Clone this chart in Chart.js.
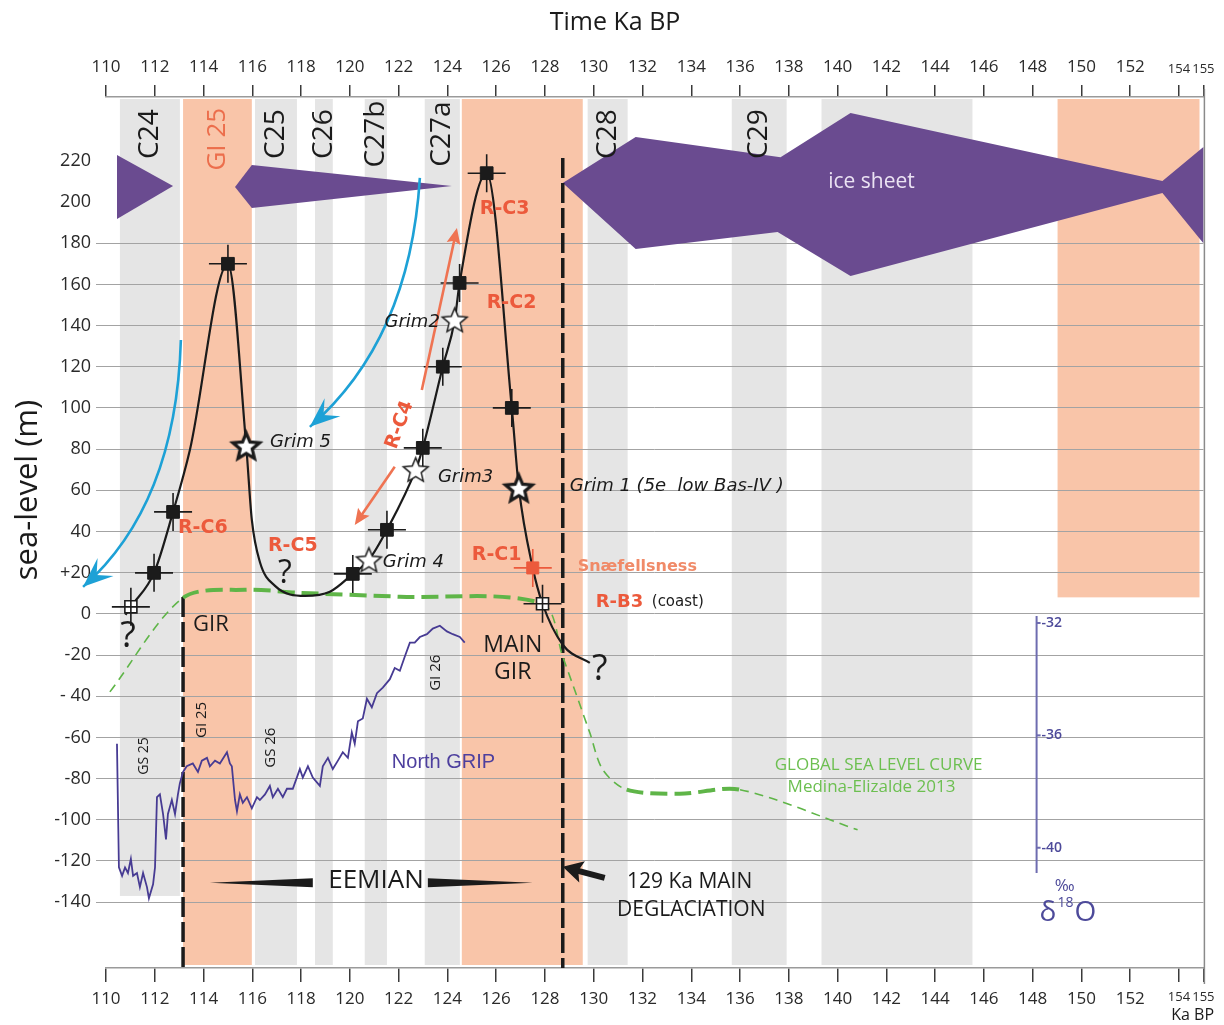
<!DOCTYPE html>
<html>
<head>
<meta charset="utf-8">
<script src="https://cdn.jsdelivr.net/npm/chart.js@4.4.1/dist/chart.umd.min.js"></script>
<style>
  html, body { margin: 0; padding: 0; background: #fff; }
  #wrap { width: 1224px; height: 1025px; }
</style>
</head>
<body>
<div id="wrap"><canvas id="c" width="1224" height="1025"></canvas></div>
<script>
// ---- values: time in ka BP, sea level in m, NGRIP in permil ----
const xTickValues = [110,112,114,116,118,120,122,124,126,128,130,132,134,136,138,140,142,144,146,148,150,152,154,155];
const yTickValues = [220,200,180,160,140,120,100,80,60,40,20,0,-20,-40,-60,-80,-100,-120,-140];
const d18TickValues = [-32, -36, -40];

// stadial (C..) and interstadial (GI) bands
const bandFrom  = [110.57, 113.16, 116.11, 118.57, 120.61, 123.07, 124.59, 129.75, 135.66, 139.34, 149.02];
const bandTo    = [113.03, 115.98, 117.83, 119.30, 121.52, 124.51, 129.55, 131.39, 137.91, 145.53, 154.84];
const bandKind  = ['GS', 'GI', 'GS', 'GS', 'GS', 'GS', 'GI', 'GS', 'GS', 'GS', 'GI'];
const bandFloor = [-137, null, null, null, null, null, null, null, null, null, 8];
const bandName  = ['C24', 'GI 25', 'C25', 'C26', 'C27b', 'C27a', '', 'C28', 'C29', '', ''];

// ice sheet outlines (ka, m)
const iceWest    = [[110.45, 222.8], [112.75, 207.8], [110.45, 191.7]];
const iceCentral = [[115.29, 207.3], [115.98, 218], [124.18, 207.8], [115.98, 197.1]];
const iceSheet   = [[128.73, 209.2], [131.72, 231.6], [137.66, 221.8], [140.53, 243.2], [153.32, 210.2], [155, 226.7],
                    [155, 180], [153.32, 204.4], [140.53, 164.1], [137.54, 185.4], [131.72, 177.2]];

// Greenland relative sea-level reconstruction
const recKa = [110.8, 111.02, 111.97, 112.75, 113.44, 115.0, 115.75, 115.98, 116.31, 116.93, 118.16, 119.18, 120.12,
               120.78, 121.52, 122.7, 122.99, 123.81, 124.3, 124.5, 125.61, 126.64, 126.93, 127.5, 127.9, 128.73, 129.84];
const recM  = [-0.5, 3.4, 19.9, 49.5, 79.6, 170, 81.5, 45.6, 25.2, 13.6, 8.7, 10.7, 19.4,
               26.2, 40.8, 70, 80.6, 120, 142.7, 160.7, 214, 100, 61, 22.3, 4.9, -15, -23.8];

const squareKa = [111.97, 112.75, 115.0, 120.12, 121.52, 122.99, 123.81, 124.5, 125.61, 126.64];
const squareM  = [19.9, 49.5, 170, 19.4, 40.8, 80.6, 120, 160.7, 214, 100];
const openKa = [111.02, 127.9];
const openM  = [3.4, 4.9];
const snaefKa = [127.5];
const snaefM  = [22.3];
const grimName = ['Grim 5', 'Grim 4', 'Grim3', 'Grim2', 'Grim 1'];
const grimKa   = [115.75, 120.78, 122.7, 124.3, 126.93];
const grimM    = [81.5, 26.2, 70, 142.7, 61];

// global sea level curve (Medina-Elizalde 2013)
const gslKa = [110.16, 113.16, 115.7, 117.95, 122.05, 127.9, 128.73, 129.84, 130.37, 131.35, 133.52, 136.0, 140.82];
const gslM  = [-37.9, 7.8, 11.7, 10.2, 8.3, 4.9, -20.9, -57.8, -75.7, -85.4, -87.4, -85.4, -104.9];

// North GRIP d18O
const gripKa = [110.45,110.53,110.66,110.78,110.90,111.02,111.11,111.27,111.39,111.52,111.68,111.76,111.93,112.01,112.09,
  112.21,112.34,112.46,112.54,112.70,112.83,112.95,113.03,113.16,113.31,113.56,113.77,113.93,114.14,114.26,114.47,114.67,
  114.96,115.08,115.16,115.29,115.37,115.49,115.61,115.78,115.98,116.19,116.31,116.52,116.72,116.84,117.05,117.25,117.42,
  117.66,117.95,118.07,118.28,118.48,118.77,118.89,119.10,119.30,119.51,119.71,119.92,120.08,120.20,120.33,120.53,120.70,
  120.90,121.11,121.35,121.64,121.84,122.05,122.25,122.46,122.66,122.87,123.16,123.40,123.69,123.98,124.22,124.51,124.71];
const gripD = [-36.3,-40.7,-41.0,-40.7,-40.9,-40.4,-41.0,-40.9,-41.4,-40.9,-41.4,-41.8,-41.3,-40.7,-38.2,
  -38.1,-38.8,-39.7,-38.8,-38.3,-38.8,-38.1,-37.7,-37.3,-37.1,-37.0,-37.3,-36.9,-36.8,-37.1,-36.9,-37.0,
  -36.6,-37.0,-37.1,-38.3,-38.7,-38.1,-38.4,-38.2,-38.6,-38.2,-38.3,-38.1,-37.8,-38.2,-37.9,-38.2,-37.9,
  -37.9,-37.2,-37.5,-37.1,-37.5,-37.8,-37.1,-36.8,-37.2,-36.9,-36.6,-36.8,-35.9,-36.3,-35.5,-35.4,-34.7,
  -35.0,-34.5,-34.3,-34.0,-33.6,-33.7,-33.2,-32.7,-32.7,-32.5,-32.4,-32.2,-32.1,-32.3,-32.4,-32.5,-32.7];

// annotation geometry (ka, m)
const girKa = [113.16, 128.73];
const girTopM = [8.2, 221.4];
const flowArrows = [
  [[113.07, 133], [112.87, 53], [109.06, 13.1]],
  [[122.87, 211.7], [122.46, 133], [118.36, 90.8]]
];
const rc4Arrows = [[[122.95, 108.7], [124.39, 187.4]], [[121.84, 71.4], [120.2, 43.2]]];
const deglacArrow = [[130.45, -128.2], [128.73, -122.8]];

// ---- styling ----
const INK = '#1b1b1b', RED = '#ec5a3c', GREEN = '#5fb548', GRIP = '#473b93', ICE = '#6a4b90',
      CYAN = '#1da1d6', GREY = '#e5e5e5', PINK = '#f9c5a9', GRID = '#a3a3a3', DPURPLE = '#4d4a9a';
const OS = "'Open Sans', sans-serif";
const DV = "'DejaVu Sans', sans-serif";

const xy = (a, b) => a.map((v, i) => ({x: v, y: b[i]}));

// the last two time ticks are only 1 ka apart: use a narrow face there if one is installed
const tailFont = (() => {
  const g = document.createElement('canvas').getContext('2d');
  g.font = "16px monospace";
  const ref = g.measureText('154155').width;
  g.font = "16px 'Liberation Sans Narrow', monospace";
  const w = g.measureText('154155').width;
  return w !== ref ? {family: "'Liberation Sans Narrow', sans-serif", size: 17} : {family: OS, size: 13};
})();

function starImage(r, lw) {
  const c = document.createElement('canvas');
  const s = Math.ceil(2 * r + 2 * lw + 4);
  c.width = c.height = s;
  const g = c.getContext('2d');
  g.translate(s / 2, s / 2 + 1);
  g.beginPath();
  for (let i = 0; i < 10; i++) {
    const rr = i % 2 ? r * 0.45 : r;
    const a = -Math.PI / 2 + i * Math.PI / 5;
    g.lineTo(rr * Math.cos(a), rr * Math.sin(a));
  }
  g.closePath();
  g.fillStyle = '#fff';
  g.fill();
  g.lineWidth = lw;
  g.lineJoin = 'miter';
  g.strokeStyle = INK;
  g.stroke();
  return c;
}
const starThin = starImage(13, 1.5);
const starBold = starImage(14, 3.2);
const boldGrim = ['Grim 5', 'Grim 1'];

const notes = [
  // text, ka, m, font, colour, align, rotation
  ['Grim 5', 116.72, 83.5, 'italic 18px ' + DV, INK, 'left', 0],
  ['Grim2', 123.69, 141.7, 'italic 18px ' + DV, INK, 'right', 0],
  ['Grim3', 123.61, 66.5, 'italic 18px ' + DV, INK, 'left', 0],
  ['Grim 4', 121.35, 24.8, 'italic 18px ' + DV, INK, 'left', 0],
  ['Grim 1 (5e  low Bas-IV )', 129.02, 61.7, 'italic 18px ' + DV, INK, 'left', 0],
  ['R-C6', 112.95, 41.7, 'bold 19px ' + DV, RED, 'left', 0],
  ['R-C5', 116.64, 33, 'bold 19px ' + DV, RED, 'left', 0],
  ['R-C3', 125.33, 196.6, 'bold 19px ' + DV, RED, 'left', 0],
  ['R-C2', 125.61, 151, 'bold 19px ' + DV, RED, 'left', 0],
  ['R-C1', 125.0, 28.6, 'bold 19px ' + DV, RED, 'left', 0],
  ['R-C4', 122.05, 91.7, 'bold 19px ' + DV, RED, 'center', -70],
  ['Snæfellsness', 129.34, 22.8, 'bold 16px ' + DV, '#f08a68', 'left', 0],
  ['R-B3', 130.08, 5.8, 'bold 18px ' + DV, RED, 'left', 0],
  ['(coast)', 132.38, 5.8, '15px ' + DV, INK, 'left', 0],
  ['?', 110.9, -11.2, '36px ' + OS, INK, 'center', 0],
  ['?', 117.34, 19.4, '32px ' + OS, INK, 'center', 0],
  ['?', 130.25, -27.2, '36px ' + OS, INK, 'center', 0],
  ['GIR', 113.57, -5.3, '22px ' + OS, INK, 'left', 0],
  ['MAIN', 126.68, -15.5, '23px ' + OS, INK, 'center', 0],
  ['GIR', 126.68, -28.6, '23px ' + OS, INK, 'center', 0],
  ['GS 25', 111.56, -69, '14px ' + OS, INK, 'center', -90],
  ['GI 25', 113.93, -51.5, '15px ' + OS, INK, 'center', -90],
  ['GS 26', 116.76, -65, '15px ' + OS, INK, 'center', -90],
  ['GI 26', 123.52, -28.6, '15px ' + OS, INK, 'center', -90],
  ['North GRIP', 121.72, -72.3, "20px 'Liberation Sans', sans-serif", '#4d3f9e', 'left', 0],
  ['GLOBAL SEA LEVEL CURVE', 137.42, -73.3, '17px ' + OS, '#6cbf50', 'left', 0],
  ['Medina-Elizalde 2013', 137.95, -84, '17px ' + OS, '#6cbf50', 'left', 0],
  ['EEMIAN', 121.07, -129.5, '26px ' + OS, INK, 'center', 0],
  ['129 Ka MAIN', 133.93, -130.1, '21px ' + OS, INK, 'center', 0],
  ['DEGLACIATION', 134.0, -143.7, '21px ' + OS, INK, 'center', 0],
  ['ice sheet', 141.39, 209.7, '21px ' + OS, '#ebe3f3', 'center', 0]
];

function text(ctx, t, x, y, font, color, align, rot) {
  ctx.save();
  ctx.translate(x, y);
  if (rot) ctx.rotate(rot * Math.PI / 180);
  ctx.font = font;
  ctx.fillStyle = color;
  ctx.textAlign = align || 'left';
  ctx.textBaseline = 'middle';
  ctx.fillText(t, 0, 0);
  ctx.restore();
}

function head(ctx, x, y, ang, len, half, notch, color) {
  ctx.save();
  ctx.translate(x, y);
  ctx.rotate(ang);
  ctx.beginPath();
  ctx.moveTo(0, 0);
  ctx.lineTo(-len, -half);
  ctx.lineTo(-len + notch, 0);
  ctx.lineTo(-len, half);
  ctx.closePath();
  ctx.fillStyle = color;
  ctx.fill();
  ctx.restore();
}

const figure = {
  id: 'figure',
  beforeDraw(chart) {
    const {ctx, chartArea: a, scales: {x, y}} = chart;
    ctx.save();
    ctx.fillStyle = '#fff';
    ctx.fillRect(0, 0, chart.width, chart.height);
    bandFrom.forEach((f, i) => {
      const l = x.getPixelForValue(f), r = x.getPixelForValue(bandTo[i]);
      const b = bandFloor[i] === null ? a.bottom - 3 : y.getPixelForValue(bandFloor[i]);
      ctx.fillStyle = bandKind[i] === 'GI' ? PINK : GREY;
      ctx.fillRect(l, a.top + 2, r - l, b - a.top - 2);
    });
    ctx.restore();
  },
  beforeDatasetsDraw(chart) {
    const {ctx, chartArea: a, scales: {x, y}} = chart;
    ctx.save();
    [iceWest, iceCentral, iceSheet].forEach(shape => {
      ctx.beginPath();
      shape.forEach((p, i) => {
        const px = x.getPixelForValue(p[0]), py = y.getPixelForValue(p[1]);
        i ? ctx.lineTo(px, py) : ctx.moveTo(px, py);
      });
      ctx.closePath();
      ctx.fillStyle = ICE;
      ctx.fill();
    });
    ctx.strokeStyle = INK;
    ctx.lineWidth = 3.5;
    ctx.setLineDash([20, 5]);
    girKa.forEach((k, i) => {
      const px = x.getPixelForValue(k);
      ctx.beginPath();
      ctx.moveTo(px, y.getPixelForValue(girTopM[i]));
      ctx.lineTo(px, a.bottom);
      ctx.stroke();
    });
    ctx.restore();
  },
  afterDatasetsDraw(chart) {
    const {ctx, chartArea: a, scales: {x, y, y2}} = chart;
    const P = p => [x.getPixelForValue(p[0]), y.getPixelForValue(p[1])];
    ctx.save();

    // ice-flow arrows
    flowArrows.forEach(arr => {
      const [p0, p1, p2] = arr.map(P);
      ctx.beginPath();
      ctx.moveTo(p0[0], p0[1]);
      ctx.quadraticCurveTo(p1[0], p1[1], p2[0], p2[1]);
      ctx.strokeStyle = CYAN;
      ctx.lineWidth = 2.6;
      ctx.stroke();
      head(ctx, p2[0], p2[1], Math.atan2(p2[1] - p1[1], p2[0] - p1[0]), 30, 12, 12, CYAN);
    });

    // R-C4 arrows
    rc4Arrows.forEach(arr => {
      const [p0, p1] = arr.map(P);
      const ang = Math.atan2(p1[1] - p0[1], p1[0] - p0[0]);
      ctx.beginPath();
      ctx.moveTo(p0[0], p0[1]);
      ctx.lineTo(p1[0] - 10 * Math.cos(ang), p1[1] - 10 * Math.sin(ang));
      ctx.strokeStyle = '#ef7352';
      ctx.lineWidth = 2.6;
      ctx.stroke();
      head(ctx, p1[0], p1[1], ang, 16, 7, 3, '#ef7352');
    });

    // deglaciation arrow
    {
      const [p0, p1] = deglacArrow.map(P);
      const ang = Math.atan2(p1[1] - p0[1], p1[0] - p0[0]);
      ctx.beginPath();
      ctx.moveTo(p0[0], p0[1]);
      ctx.lineTo(p1[0] - 14 * Math.cos(ang), p1[1] - 14 * Math.sin(ang));
      ctx.strokeStyle = INK;
      ctx.lineWidth = 6;
      ctx.stroke();
      head(ctx, p1[0], p1[1], ang, 20, 11, 4, INK);
    }

    // EEMIAN tapered bars
    {
      const yy = y.getPixelForValue(-130.6);
      const l0 = x.getPixelForValue(114.26), l1 = x.getPixelForValue(118.48);
      const r0 = x.getPixelForValue(123.2), r1 = x.getPixelForValue(127.5);
      ctx.fillStyle = INK;
      ctx.beginPath();
      ctx.moveTo(l0, yy); ctx.lineTo(l1, yy - 4.5); ctx.lineTo(l1, yy + 4.5); ctx.closePath(); ctx.fill();
      ctx.beginPath();
      ctx.moveTo(r1, yy); ctx.lineTo(r0, yy - 4.5); ctx.lineTo(r0, yy + 4.5); ctx.closePath(); ctx.fill();
    }

    // d18O axis
    {
      const ax = x.getPixelForValue(148.16);
      ctx.strokeStyle = '#6e6cb0';
      ctx.lineWidth = 2;
      ctx.beginPath();
      ctx.moveTo(ax, y2.getPixelForValue(-31.75));
      ctx.lineTo(ax, y2.getPixelForValue(-40.9));
      ctx.stroke();
      d18TickValues.forEach(v => {
        const py = y2.getPixelForValue(v);
        ctx.beginPath(); ctx.moveTo(ax, py); ctx.lineTo(ax + 4, py); ctx.stroke();
        text(ctx, String(v), ax + 5, py, '600 14px ' + OS, DPURPLE, 'left', 0);
      });
      const by = y2.getPixelForValue(-41.35);
      text(ctx, '‰', ax + 28, by, '17px ' + OS, DPURPLE, 'center', 0);
      const dy = y2.getPixelForValue(-42.25);
      text(ctx, 'δ', ax + 3, dy + 2, '28px ' + OS, DPURPLE, 'left', 0);
      text(ctx, '18', ax + 21, dy - 8, '14px ' + OS, DPURPLE, 'left', 0);
      text(ctx, 'O', ax + 38, dy + 2, '28px ' + OS, DPURPLE, 'left', 0);
    }

    // band names
    bandName.forEach((n, i) => {
      if (!n) return;
      const cx = x.getPixelForValue((bandFrom[i] + bandTo[i]) / 2);
      text(ctx, n, cx, y.getPixelForValue(bandKind[i] === 'GI' ? 230.5 : 233), (bandKind[i] === 'GI' ? '26px ' : '28px ') + OS,
           bandKind[i] === 'GI' ? '#ec6e4c' : INK, 'center', -90);
    });

    notes.forEach(n => text(ctx, n[0], x.getPixelForValue(n[1]), y.getPixelForValue(n[2]), n[3], n[4], n[5], n[6]));

    // frame on the right
    ctx.strokeStyle = '#8a8a8a';
    ctx.lineWidth = 1.5;
    ctx.beginPath();
    ctx.moveTo(a.right + 1, a.top - 8);
    ctx.lineTo(a.right + 1, a.bottom + 16);
    ctx.stroke();

    // titles
    text(ctx, 'Time Ka BP', 615, 23, '25px ' + OS, INK, 'center', 0);
    text(ctx, 'sea-level (m)', 28, 490, '31px ' + OS, INK, 'center', -90);
    text(ctx, 'Ka BP', 1214, 1015, '16px ' + OS, INK, 'right', 0);
    ctx.restore();
  }
};

const timeAxis = (pos, h, pad) => ({
  type: 'linear', position: pos, min: 110, max: 155,
  afterBuildTicks: s => { s.ticks = xTickValues.map(v => ({value: v})); },
  afterFit: s => { s.height = h; },
  grid: {drawOnChartArea: false, drawTicks: true, tickLength: pos === 'top' ? 12 : 14, color: '#3a3a3a', lineWidth: 1.5},
  border: {display: true, color: '#9a9a9a', width: 1.5},
  ticks: {
    autoSkip: false, maxRotation: 0, minRotation: 0, padding: pad, color: '#2a2a2a',
    font: c => (c.tick && c.tick.value >= 154) ? tailFont : {family: OS, size: 17}
  }
});

new Chart(document.getElementById('c'), {
  type: 'line',
  data: {
    datasets: [
      {label: 'Grim sites', data: xy(grimKa, grimM), showLine: false, order: 0,
       pointStyle: c => boldGrim.includes(grimName[c.dataIndex]) ? starBold : starThin, pointRadius: 13},
      {label: 'dated', data: xy(squareKa, squareM), showLine: false, order: 1,
       pointStyle: 'rect', pointRadius: 9, pointBackgroundColor: INK, pointBorderColor: INK, pointBorderWidth: 1},
      {label: 'Snaefellsness', data: xy(snaefKa, snaefM), showLine: false, order: 1,
       pointStyle: 'rect', pointRadius: 8.5, pointBackgroundColor: RED, pointBorderColor: RED, pointBorderWidth: 1},
      {label: 'error', data: xy(squareKa.concat(openKa), squareM.concat(openM)), showLine: false, order: 2,
       pointStyle: 'cross', pointRadius: 19, pointBorderColor: INK, pointBorderWidth: 1.6},
      {label: 'error red', data: xy(snaefKa, snaefM), showLine: false, order: 2,
       pointStyle: 'cross', pointRadius: 19, pointBorderColor: RED, pointBorderWidth: 1.6},
      {label: 'undated', data: xy(openKa, openM), showLine: false, order: 3,
       pointStyle: 'rect', pointRadius: 8.5, pointBackgroundColor: '#fff', pointBorderColor: INK, pointBorderWidth: 1.6},
      {label: 'reconstruction', data: xy(recKa, recM), order: 4, borderColor: INK, borderWidth: 2.2,
       pointRadius: 0, cubicInterpolationMode: 'monotone'},
      {label: 'global sea level', data: xy(gslKa, gslM), order: 5, borderColor: GREEN, pointRadius: 0, tension: 0.3,
       borderWidth: 1.6, borderDash: [9, 6],
       segment: {
         borderWidth: c => ((c.p0DataIndex >= 1 && c.p0DataIndex <= 4) || (c.p0DataIndex >= 9 && c.p0DataIndex <= 10)) ? 4 : 1.6,
         borderDash: c => ((c.p0DataIndex >= 1 && c.p0DataIndex <= 4) || (c.p0DataIndex >= 9 && c.p0DataIndex <= 10)) ? [17, 7] : [9, 6]
       }},
      {label: 'North GRIP', data: xy(gripKa, gripD), yAxisID: 'y2', order: 6, borderColor: GRIP, borderWidth: 1.8,
       pointRadius: 0, tension: 0}
    ]
  },
  options: {
    responsive: false,
    animation: false,
    devicePixelRatio: 1,
    layout: {padding: {left: 0, right: 20, top: 0, bottom: 0}},
    plugins: {legend: {display: false}, tooltip: {enabled: false}},
    scales: {
      x: timeAxis('bottom', 57, 7),
      x2: timeAxis('top', 97, 8),
      y: {
        type: 'linear', min: -172, max: 251,
        afterBuildTicks: s => { s.ticks = yTickValues.map(v => ({value: v})); },
        afterFit: s => { s.width = 106; },
        grid: {color: c => (c.tick && c.tick.value >= 200) ? 'rgba(0,0,0,0)' : GRID, lineWidth: 1, tickLength: 10},
        border: {display: false},
        ticks: {
          padding: 5, color: '#2a2a2a', font: {family: OS, size: 18},
          callback: v => v === 20 ? '+20' : (v === -40 ? '- 40' : String(v))
        }
      },
      y2: {type: 'linear', display: false, min: -44.28, max: -13.28}
    }
  },
  plugins: [figure]
});
</script>
</body>
</html>
